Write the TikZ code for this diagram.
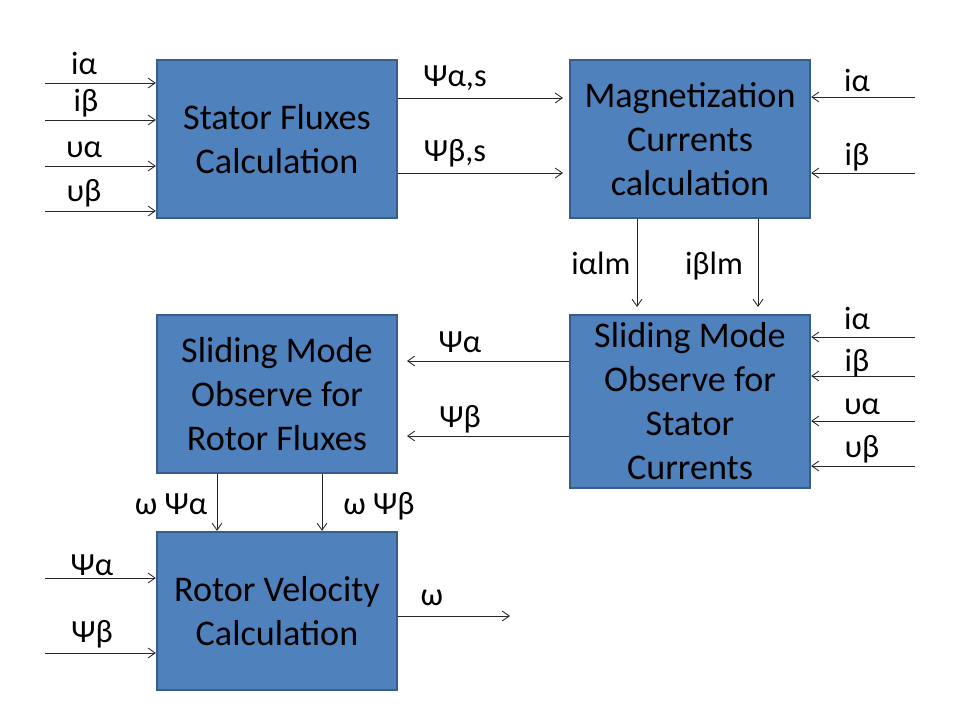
\documentclass[tikz,border=0pt]{standalone}
\usepackage{fontspec}
\setmainfont{Carlito}
\usetikzlibrary{arrows.meta,positioning}
\definecolor{boxfill}{HTML}{4F81BD}
\definecolor{boxedge}{HTML}{385D8A}

\begin{document}
\begin{tikzpicture}[x=0.025cm,y=-0.025cm]
        \tikzstyle{every node}+=[inner sep=0pt]
        \tikzstyle{block}=[draw=boxedge,fill=boxfill,line width=1.6pt,minimum width=6cm,minimum height=3.95cm,align=center,font=\fontsize{25.7}{31.3}\selectfont]
        \tikzstyle{sig}=[draw=black!85,line width=0.6pt,-{Straight Barb[length=5pt,width=7pt]}]
        \tikzstyle{lbl}=[anchor=base,font=\fontsize{23}{26}\selectfont]
        \useasboundingbox (0,0) rectangle (960,720);
        \node[block] (sfc) at (277,139) {Stator Fluxes\\Calculation};
        \node[block] (mcc) at (690,139) {Magnetization\\Currents\\calculation};
        \node[block,minimum height=4.325cm] (sms) at (690,401.5) {Sliding Mode\\Observe for\\Stator\\Currents};
        \node[block] (smr) at (277,394) {Sliding Mode\\Observe for\\Rotor Fluxes};
        \node[block] (rvc) at (277,611) {Rotor Velocity\\Calculation};
        \coordinate (s1) at (45,83);
        \coordinate (s2) at (45,120);
        \coordinate (s3) at (45,166);
        \coordinate (s4) at (45,211);
        \draw[sig] (s1) -- (s1 -| sfc.west);
        \draw[sig] (s2) -- (s2 -| sfc.west);
        \draw[sig] (s3) -- (s3 -| sfc.west);
        \draw[sig] (s4) -- (s4 -| sfc.west);
        \node[lbl] (ls1) at (84,75) {iα};
        \node[lbl] (ls2) at (86,112) {iβ};
        \node[lbl] (ls3) at (84,158) {υα};
        \node[lbl] (ls4) at (84,202) {υβ};
        \coordinate (f1) at (563,98);
        \coordinate (f2) at (563,173);
        \draw[sig] (f1 -| sfc.east) -- (f1);
        \draw[sig] (f2 -| sfc.east) -- (f2);
        \node[lbl] (lf1) at (455,87) {Ψα,s};
        \node[lbl] (lf2) at (455,162) {Ψβ,s};
        \coordinate (r1) at (915,97);
        \coordinate (r2) at (915,173);
        \draw[sig] (r1) -- (r1 -| mcc.east);
        \draw[sig] (r2) -- (r2 -| mcc.east);
        \node[lbl] (lr1) at (857,92) {iα};
        \node[lbl] (lr2) at (857,166) {iβ};
        \coordinate (m1) at (637,307);
        \coordinate (m2) at (758,307);
        \draw[sig] (m1 |- mcc.south) -- (m1);
        \draw[sig] (m2 |- mcc.south) -- (m2);
        \node[lbl] (lm1) at (601,275) {iαlm};
        \node[lbl] (lm2) at (714,275) {iβlm};
        \coordinate (q1) at (915,337);
        \coordinate (q2) at (915,376);
        \coordinate (q3) at (915,421);
        \coordinate (q4) at (915,466);
        \draw[sig] (q1) -- (q1 -| sms.east);
        \draw[sig] (q2) -- (q2 -| sms.east);
        \draw[sig] (q3) -- (q3 -| sms.east);
        \draw[sig] (q4) -- (q4 -| sms.east);
        \node[lbl] (lq1) at (857,330) {iα};
        \node[lbl] (lq2) at (857,372) {iβ};
        \node[lbl] (lq3) at (862,415) {υα};
        \node[lbl] (lq4) at (862,458) {υβ};
        \coordinate (o1) at (407,361);
        \coordinate (o2) at (407,436);
        \draw[sig] (o1 -| sms.west) -- (o1);
        \draw[sig] (o2 -| sms.west) -- (o2);
        \node[lbl] (lo1) at (460,353) {Ψα};
        \node[lbl] (lo2) at (460,428) {Ψβ};
        \coordinate (w1) at (217,500);
        \coordinate (w2) at (322,500);
        \draw[sig] (w1 |- smr.south) -- (w1 |- rvc.north);
        \draw[sig] (w2 |- smr.south) -- (w2 |- rvc.north);
        \node[lbl] (lw1) at (171,515) {ω Ψα};
        \node[lbl] (lw2) at (379,515) {ω Ψβ};
        \coordinate (v1) at (45,578);
        \coordinate (v2) at (45,653);
        \draw[sig] (v1) -- (v1 -| rvc.west);
        \draw[sig] (v2) -- (v2 -| rvc.west);
        \node[lbl] (lv1) at (92,575) {Ψα};
        \node[lbl] (lv2) at (92,642) {Ψβ};
        \coordinate (wo) at (510,616);
        \draw[sig] (wo -| rvc.east) -- (wo);
        \node[lbl] (lwo) at (432,605) {ω};
\end{tikzpicture}
\end{document}
